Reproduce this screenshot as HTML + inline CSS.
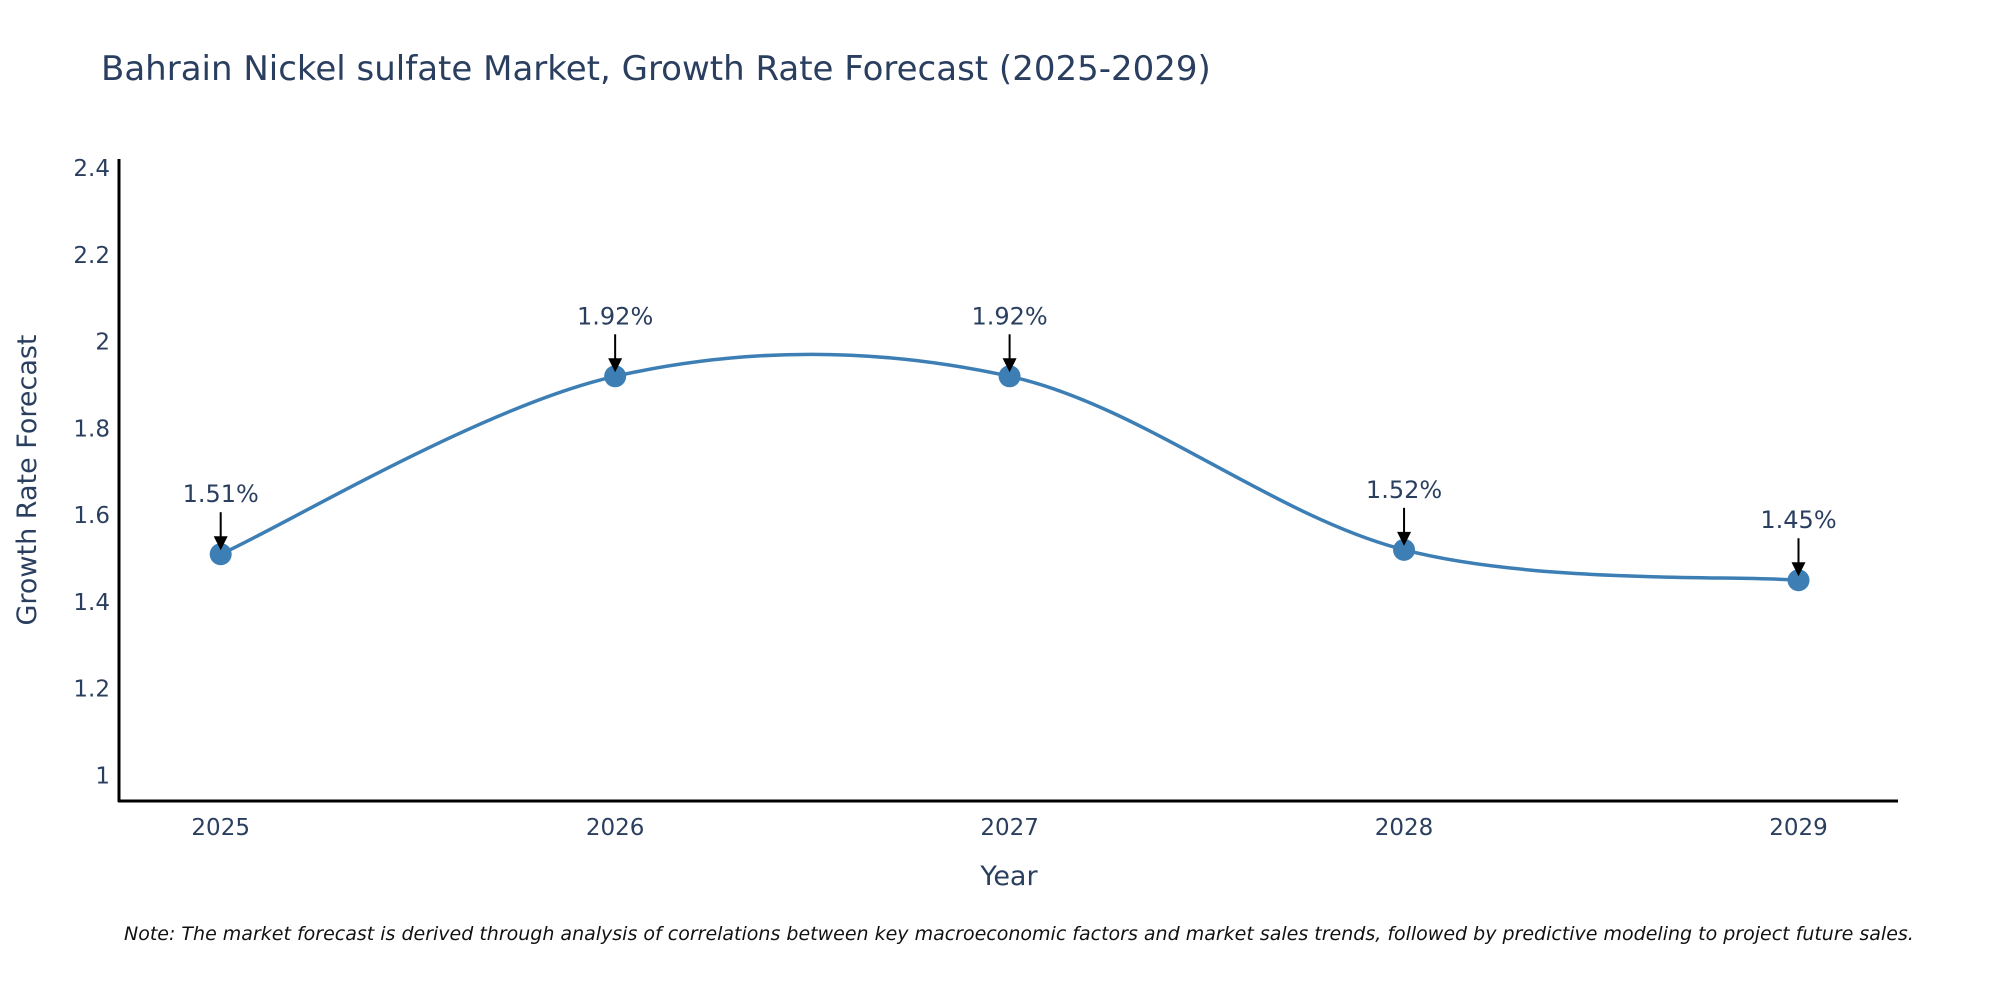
<!DOCTYPE html>
<html><head><meta charset="utf-8"><style>
body{margin:0;background:#fff;width:2000px;height:1000px;overflow:hidden;font-family:"DejaVu Sans","Liberation Sans",sans-serif}
</style></head><body>
<svg width="2000" height="1000" xmlns="http://www.w3.org/2000/svg" font-family="DejaVu Sans, Liberation Sans, sans-serif">
<text x="101" y="80" font-size="34" fill="#2a3f5f">Bahrain Nickel sulfate Market, Growth Rate Forecast (2025-2029)</text>
<g id="yticks"></g><g id="xticks"></g>
<line x1="119" y1="159" x2="119" y2="802" stroke="#000" stroke-width="3"/>
<line x1="118" y1="801" x2="1898" y2="801" stroke="#000" stroke-width="3"/>
<text transform="translate(36,480) rotate(-90)" text-anchor="middle" font-size="27" fill="#2a3f5f">Growth Rate Forecast</text>
<text x="1009" y="885" text-anchor="middle" font-size="27" fill="#2a3f5f">Year</text>
<path id="line" fill="none" stroke="#3d7fb5" stroke-width="3.5"/>
<g id="pts"></g>
<text x="124" y="940" font-size="19" font-style="italic" fill="#111">Note: The market forecast is derived through analysis of correlations between key macroeconomic factors and market sales trends, followed by predictive modeling to project future sales.</text>
</svg>
<script>
const years=["2025","2026","2027","2028","2029"];
const values=[1.51,1.92,1.92,1.52,1.45];
const yTickVals=[1,1.2,1.4,1.6,1.8,2,2.2,2.4];
const yTickLabels=["1","1.2","1.4","1.6","1.8","2","2.2","2.4"];
const NS="http://www.w3.org/2000/svg";
const xs=i=>220.7+i*(1798.5-220.7)/(years.length-1);
const ys=v=>775.5-(v-1)*(775.5-168)/1.4;
function mk(tag,attrs,parent,txt){const e=document.createElementNS(NS,tag);for(const k in attrs)e.setAttribute(k,attrs[k]);if(txt!==undefined)e.textContent=txt;parent.appendChild(e);return e;}
const yt=document.getElementById('yticks');
yTickVals.forEach((v,i)=>{const t=mk('text',{x:110,y:ys(v)+8,'text-anchor':'end','font-size':23,fill:'#2a3f5f'},yt,yTickLabels[i]);

});
const xt=document.getElementById('xticks');
years.forEach((y,i)=>{const t=mk('text',{x:xs(i),y:835,'text-anchor':'middle','font-size':23,fill:'#2a3f5f'},xt,y);

});
const P=values.map((v,i)=>[xs(i),ys(v)]);
let d=`M${P[0][0]},${P[0][1]}`;const s=0.5;
for(let i=0;i<P.length-1;i++){const p0=P[Math.max(i-1,0)],p1=P[i],p2=P[i+1],p3=P[Math.min(i+2,P.length-1)];
const c1=[p1[0]+(p2[0]-p0[0])*s/3,p1[1]+(p2[1]-p0[1])*s/3],c2=[p2[0]-(p3[0]-p1[0])*s/3,p2[1]-(p3[1]-p1[1])*s/3];
d+=` C${c1[0]},${c1[1]} ${c2[0]},${c2[1]} ${p2[0]},${p2[1]}`;}
document.getElementById('line').setAttribute('d',d);
const g=document.getElementById('pts');
values.forEach((v,i)=>{const x=xs(i),y=ys(v);
const c=mk('circle',{cx:x,cy:y,r:11,fill:'#3d7fb5'},g);


const l=mk('line',{x1:x,y1:y-42,x2:x,y2:y-16,stroke:'#000','stroke-width':2},g);


const a=mk('path',{d:`M${x-7},${y-18} L${x+7},${y-18} L${x},${y-4} Z`,fill:'#000'},g);


const t=mk('text',{x:x,y:y-52,'text-anchor':'middle','font-size':24,fill:'#2a3f5f'},g,v.toFixed(2)+'%');

});
</script>
</body></html>
